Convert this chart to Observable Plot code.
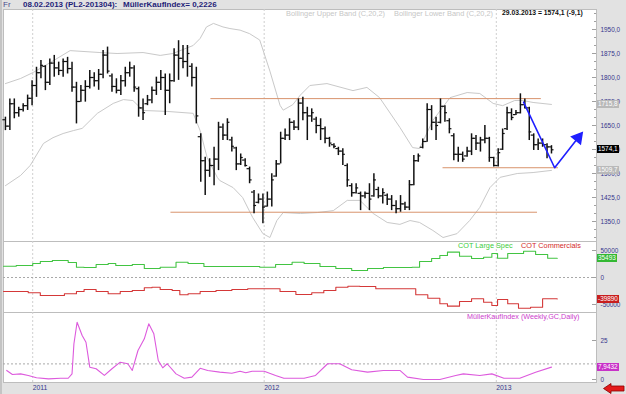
<!DOCTYPE html>
<html><head><meta charset="utf-8">
<script src="https://cdn.jsdelivr.net/npm/d3@7"></script>
<script src="https://cdn.jsdelivr.net/npm/@observablehq/plot@0.6"></script>
<style>
body{margin:0;background:#fff}
#wrap{position:relative;width:626px;height:394px;background:#e2e2e2;overflow:hidden;font-family:"Liberation Sans",Arial,sans-serif}
#wrap:before{content:"";position:absolute;left:0;top:0;width:2px;height:394px;background:#c4c4c4}
.pan{position:absolute;left:0}
.pan svg{overflow:visible}
.t{position:absolute;white-space:nowrap;line-height:1}
.badge{position:absolute;left:597px;height:8px;font-size:6.4px;line-height:8px;color:#fff;padding:0 1px;white-space:nowrap}
</style></head><body>
<div id="wrap">
 <div id="p1" class="pan" style="top:9px"></div>
 <div id="p2" class="pan" style="top:241px"></div>
 <div id="p3" class="pan" style="top:312px"></div>
 <div class="t" style="left:3px;top:1px;font-size:8px;color:#4a4a8a">Fr</div>
 <div class="t" style="left:23px;top:1px;font-size:8px;font-weight:bold;color:#1e1e78">08.02.2013 (PL2-201304):</div>
 <div class="t" style="left:123px;top:1px;font-size:8px;font-weight:bold;color:#1e1e78">MüllerKaufIndex= 0,2226</div>
 <div class="t" style="left:286px;top:9.5px;font-size:7.4px;color:#c6c6c6">Bollinger Upper Band (C,20,2)</div>
 <div class="t" style="left:394px;top:9.5px;font-size:7.4px;color:#c6c6c6">Bollinger Lower Band (C,20,2)</div>
 <div class="t" style="left:502px;top:9.5px;font-size:6.8px;font-weight:bold;color:#111">29.03.2013 = 1574,1 (-9,1)</div>
 <div class="t" style="left:458px;top:241.5px;font-size:7.3px;color:#3ccc3c">COT Large Spec</div>
 <div class="t" style="left:521px;top:241.5px;font-size:7.3px;color:#d42a2a">COT Commercials</div>
 <div class="t" style="left:467px;top:312.5px;font-size:7.2px;color:#cc3ccc">MüllerKaufIndex (Weekly,GC,Daily)</div>
 <svg style="position:absolute;left:603px;top:383px" width="22" height="11"><polygon points="0.5,5.5 8,0.5 8,3 21,3 21,8 8,8 8,10.5" fill="#e41b1b" stroke="#8a0000" stroke-width="0.8"/></svg>
</div>
<script>
// ---------- data ----------
const high = [1676,1733,1733,1707,1718,1745,1790,1832,1853,1837,
 1858,1869,1848,1858,1863,1848,1785,1775,1790,1822,
 1815,1825,1884,1895,1811,1796,1806,1832,1848,1837,
 1770,1733,1744,1770,1801,1822,1811,1811,1890,1915,
 1900,1900,1843,1832,1624,1551,1546,1582,1660,1655,
 1671,1613,1582,1561,1546,1520,1447,1436,1436,1442,
 1499,1541,1629,1639,1671,1665,1733,1738,1707,1702,
 1676,1671,1645,1613,1593,1582,1577,1530,1468,1468,
 1442,1442,1468,1499,1457,1452,1436,1431,1415,1431,
 1410,1478,1556,1561,1608,1718,1712,1676,1733,1712,
 1671,1624,1582,1567,1582,1624,1619,1613,1650,1613,
 1551,1577,1639,1707,1702,1697,1749,1733,1707,1624,
 1608,1608,1593,1587];
const low = [1634,1634,1671,1676,1692,1697,1712,1738,1796,1759,
 1775,1801,1806,1801,1811,1754,1655,1723,1723,1764,
 1770,1760,1796,1811,1754,1749,1744,1770,1801,1754,
 1676,1666,1712,1718,1744,1759,1681,1718,1785,1791,
 1827,1801,1770,1655,1473,1431,1488,1462,1509,1603,
 1603,1567,1509,1525,1520,1468,1374,1405,1343,1395,
 1395,1488,1530,1603,1603,1634,1634,1665,1603,1660,
 1624,1603,1593,1582,1577,1556,1525,1457,1426,1436,
 1384,1421,1384,1426,1421,1405,1400,1384,1374,1379,
 1384,1384,1462,1535,1577,1598,1634,1603,1655,1660,
 1624,1540,1535,1535,1551,1556,1572,1567,1593,1535,
 1520,1520,1572,1634,1665,1681,1686,1702,1603,1572,
 1572,1582,1546,1561];
const open = [1668,1648,1718,1690,1700,1712,1735,1775,1815,1835,
 1785,1845,1830,1822,1850,1828,1770,1725,1760,1772,
 1800,1790,1810,1870,1805,1772,1760,1790,1815,1830,
 1765,1705,1718,1730,1760,1785,1800,1760,1790,1870,
 1860,1850,1835,1800,1615,1540,1510,1525,1545,1645,
 1620,1605,1580,1530,1542,1515,1442,1410,1420,1398,
 1420,1492,1530,1610,1620,1660,1645,1720,1690,1680,
 1670,1650,1640,1610,1590,1578,1570,1525,1462,1440,
 1438,1430,1438,1430,1450,1430,1432,1420,1400,1390,
 1405,1395,1465,1540,1582,1600,1700,1660,1660,1710,
 1665,1618,1560,1560,1555,1570,1610,1595,1605,1610,
 1550,1525,1576,1640,1690,1684,1690,1715,1705,1620,
 1590,1595,1590,1583.2];
const close = [1648,1718,1690,1700,1712,1735,1775,1815,1838,1785,
 1845,1830,1822,1850,1828,1770,1725,1760,1772,1800,
 1790,1810,1870,1820,1772,1760,1790,1815,1830,1770,
 1705,1690,1730,1760,1785,1800,1760,1790,1870,1860,
 1850,1875,1800,1680,1540,1510,1525,1545,1645,1620,
 1660,1585,1530,1550,1525,1480,1400,1420,1395,1420,
 1480,1530,1610,1620,1660,1645,1720,1690,1680,1690,
 1650,1640,1610,1595,1585,1570,1560,1480,1440,1455,
 1430,1438,1420,1480,1430,1440,1420,1400,1390,1405,
 1395,1465,1540,1555,1600,1700,1660,1650,1710,1690,
 1640,1560,1560,1545,1570,1610,1595,1605,1610,1550,
 1525,1565,1625,1690,1675,1690,1715,1705,1630,1590,
 1595,1590,1583.2,1574.1];

const upperBand = [["2010-11-19",1781],["2010-12-13",1797],["2011-01-02",1816],["2011-01-29",1847],["2011-03-01",1884],["2011-04-17",1878],["2011-05-14",1875],["2011-06-24",1878],["2011-07-21",1869],["2011-08-10",1875],["2011-09-11",1900],["2011-09-22",1922],["2011-10-02",1958],["2011-10-13",1969],["2011-10-28",1958],["2011-11-08",1953],["2011-11-24",1948],["2011-12-09",1937],["2011-12-25",1917],["2012-01-10",1820],["2012-01-26",1713],["2012-01-31",1698],["2012-02-15",1715],["2012-02-27",1745],["2012-03-13",1775],["2012-04-09",1781],["2012-05-20",1759],["2012-06-11",1769],["2012-07-01",1737],["2012-08-02",1644],["2012-08-22",1581],["2012-09-02",1578],["2012-09-23",1666],["2012-10-20",1737],["2012-11-16",1753],["2012-12-06",1750],["2012-12-27",1719],["2013-01-11",1712],["2013-01-30",1728],["2013-02-12",1728],["2013-02-28",1722],["2013-03-29",1715.8]];
const lowerBand = [["2010-11-19",1462],["2010-12-13",1494],["2010-12-28",1525],["2011-01-18",1594],["2011-02-02",1612],["2011-02-18",1625],["2011-03-06",1634],["2011-03-20",1641],["2011-04-13",1688],["2011-05-08",1719],["2011-05-24",1731],["2011-06-08",1728],["2011-06-24",1697],["2011-08-01",1694],["2011-09-11",1688],["2011-09-22",1634],["2011-10-03",1550],["2011-10-19",1488],["2011-10-23",1478],["2011-11-13",1456],["2011-11-28",1425],["2011-12-14",1362],["2011-12-30",1312],["2012-01-10",1300],["2012-01-21",1353],["2012-01-31",1378],["2012-02-27",1375],["2012-03-25",1378],["2012-04-19",1384],["2012-05-11",1416],["2012-05-31",1416],["2012-06-21",1375],["2012-07-13",1347],["2012-08-02",1341],["2012-08-18",1353],["2012-09-02",1347],["2012-09-23",1322],["2012-10-09",1300],["2012-10-31",1312],["2012-11-20",1353],["2012-12-06",1394],["2012-12-22",1456],["2013-01-07",1488],["2013-02-03",1500],["2013-02-28",1503],["2013-03-29",1509.7]];

const levels = [{from:"2011-10-09",to:"2013-03-13",price:1734},{from:"2011-08-07",to:"2013-03-07",price:1379},{from:"2012-10-09",to:"2013-04-09",price:1518}];
const trend = [["2013-02-13",1723],["2013-04-03",1518],["2013-05-10",1612]];
const arrowHead = [["2013-05-10",1612]];

const cotLarge = [["2010-11-16",20900],["2010-12-06",22200],["2011-01-01",25900],["2011-01-13",29600],["2011-02-01",31500],["2011-02-26",27800],["2011-03-11",19000],["2011-03-23",18500],["2011-04-11",24000],["2011-04-30",25900],["2011-05-12",22200],["2011-06-07",24000],["2011-06-26",16700],["2011-07-21",19000],["2011-08-15",28300],["2011-09-03",25900],["2011-09-28",20400],["2011-10-30",20400],["2011-11-24",20400],["2011-12-25",19000],["2012-01-19",24000],["2012-02-14",28300],["2012-03-04",25900],["2012-03-29",20400],["2012-04-23",16700],["2012-05-18",13000],["2012-06-12",16700],["2012-07-07",18500],["2012-08-02",18500],["2012-08-21",19000],["2012-09-02",29600],["2012-09-21",35200],["2012-10-04",40700],["2012-10-16",46900],["2012-11-04",39400],["2012-11-23",35200],["2012-12-12",37600],["2012-12-25",44400],["2013-01-03",35700],["2013-01-19",44400],["2013-02-13",48700],["2013-03-04",42600],["2013-03-23",35700],["2013-04-07",35493]];
const cotComm = [["2010-11-16",-25900],["2010-12-06",-25900],["2010-12-25",-28300],["2011-01-13",-33300],["2011-02-01",-33300],["2011-02-20",-30200],["2011-03-11",-25900],["2011-03-23",-22200],["2011-04-11",-25900],["2011-04-30",-30200],["2011-05-19",-25900],["2011-06-07",-24100],["2011-06-26",-19100],["2011-07-08",-18000],["2011-07-21",-22200],["2011-08-09",-24100],["2011-08-21",-32000],["2011-09-03",-30200],["2011-09-22",-25900],["2011-10-17",-24100],["2011-11-11",-22200],["2011-12-06",-20900],["2012-01-01",-20900],["2012-01-26",-25900],["2012-02-20",-31500],["2012-03-16",-28300],["2012-04-04",-24100],["2012-04-23",-18000],["2012-05-12",-16100],["2012-05-31",-16700],["2012-06-25",-20900],["2012-07-20",-20900],["2012-08-14",-20900],["2012-08-27",-32000],["2012-09-15",-38300],["2012-10-04",-48700],["2012-10-16",-53100],["2012-11-04",-44400],["2012-11-23",-39400],["2012-12-12",-45700],["2012-12-25",-51900],["2013-01-03",-40700],["2013-01-19",-48700],["2013-02-05",-56900],["2013-02-24",-55000],["2013-03-15",-39400],["2013-04-07",-39890]];
const mkIndex = [["2010-11-21",5.8],["2010-11-30",3.2],["2010-12-13",3.6],["2010-12-25",2.6],["2011-01-07",1.1],["2011-01-26",0.4],["2011-02-14",0.8],["2011-02-26",0.8],["2011-03-04",3.6],["2011-03-07",22.9],["2011-03-12",36.7],["2011-03-20",28.2],["2011-03-26",23.9],["2011-04-01",7.9],["2011-04-11",6.9],["2011-04-24",2.6],["2011-05-06",6.9],["2011-05-19",11.1],["2011-05-31",10.1],["2011-06-07",5.8],["2011-06-16",18.6],["2011-06-26",26.1],["2011-07-03",35.7],["2011-07-11",29.3],["2011-07-18",12.2],["2011-07-25",7.5],["2011-08-01",10.1],["2011-08-15",3.6],["2011-08-28",0.8],["2011-09-09",1.5],["2011-09-22",7.2],["2011-10-04",5.8],["2011-10-23",4.7],["2011-11-11",4.0],["2011-11-24",5.3],["2011-12-03",4.3],["2011-12-13",5.3],["2012-01-01",5.3],["2012-01-19",2.6],["2012-02-01",0.8],["2012-03-04",0.8],["2012-03-22",2.6],["2012-04-10",10.1],["2012-04-29",10.1],["2012-05-18",6.2],["2012-06-12",4.7],["2012-07-07",5.8],["2012-08-02",5.8],["2012-08-14",1.5],["2012-09-08",0],["2012-10-04",0],["2012-10-29",2.6],["2012-11-10",3.6],["2012-12-06",2.6],["2012-12-25",3.6],["2013-01-13",0.8],["2013-02-07",0.8],["2013-03-04",4.7],["2013-03-29",7.9432]];

const priceMajor = [1350,1425,1500,1575,1650,1725,1800,1875,1950];
const priceMinor = [1300,1325,1375,1400,1450,1475,1525,1550,1600,1625,1675,1700,1750,1775,1825,1850,1900,1925,1975,2000];
const cotTicks = [50000,0,-50000];
const mkTicks = [0,25];
const yearLines = ["2011-01-01","2012-01-01","2013-01-01"].map(s => new Date(s));

// ---------- layout ----------
const dayMs = 864e5;
const origin = Date.UTC(2011,0,1);
const pxPerDay = 0.6342;
const L = 3, R = 596;
const xDomain = [new Date(origin - (32.2 - L) / pxPerDay * dayMs), new Date(origin + (R - 32.2) / pxPerDay * dayMs)];
const font = "'Liberation Sans', Arial, sans-serif";
const axisColor = "#35358c";
const tickColor = "#a0a0a0";
const P = a => ({date: new Date(a[0]), v: a[1]});

const weeks = d3.utcFriday.range(new Date(Date.UTC(2010,10,19)), new Date(Date.UTC(2013,2,30)));
const bars = weeks.map((date, i) => ({date, open: open[i], high: high[i], low: low[i], close: close[i]}));
const lv = levels.map(d => ({from: new Date(d.from), to: new Date(d.to), price: d.price}));

const fmt1 = v => v.toFixed(1).replace(".", ",");
const common = (h, mb = 0) => ({
  width: 626, height: h, marginLeft: L, marginRight: 626 - R, marginTop: 0, marginBottom: mb,
  style: {background: "transparent", fontFamily: font, fontSize: "6.4px", overflow: "visible"},
  x: {type: "utc", domain: xDomain, axis: null}
});
const axes = (major, minor, fmt) => [
  ...(minor ? [Plot.axisY({anchor: "right", ticks: minor, tickSize: 2, dx: -3, tickFormat: () => "", label: null, color: tickColor})] : []),
  Plot.axisY({anchor: "right", ticks: major, tickSize: 4, dx: -5, tickFormat: () => "", label: null, color: tickColor}),
  Plot.axisY({anchor: "right", ticks: major, tickSize: 0, tickPadding: 4, tickFormat: fmt, label: null, color: axisColor})
];

const c1 = Plot.plot({
  ...common(232),
  y: {domain: [1287.5, 2012.5], axis: null, label: null},
  marks: [
    Plot.frame({fill: "white", stroke: "#bdbdbd"}),
    Plot.ruleX(yearLines, {stroke: "#cfcfcf", strokeDasharray: "2,2"}),
    Plot.line(upperBand.map(P), {x: "date", y: "v", stroke: "#c9c9c9", strokeWidth: 1}),
    Plot.line(lowerBand.map(P), {x: "date", y: "v", stroke: "#c9c9c9", strokeWidth: 1}),
    Plot.ruleY(lv, {x1: "from", x2: "to", y: "price", stroke: "#d8936c", strokeWidth: 1}),
    Plot.ruleX(bars, {x: "date", y1: "low", y2: "high", stroke: "#111", strokeWidth: 1.5}),
    Plot.ruleY(bars, {x1: d => new Date(+d.date - 4 * dayMs), x2: "date", y: "open", stroke: "#111", strokeWidth: 1.2}),
    Plot.ruleY(bars, {x1: "date", x2: d => new Date(+d.date + 4 * dayMs), y: "close", stroke: "#111", strokeWidth: 1.2}),
    Plot.line(trend.map(P), {x: "date", y: "v", stroke: "#1f1fff", strokeWidth: 1.6}),
    Plot.dot(arrowHead.map(P), {x: "date", y: "v", symbol: "triangle", r: 4.2, fill: "#1f1fff", stroke: "#1f1fff", rotate: 39}),
    ...axes(priceMajor, priceMinor, fmt1)
  ]
});
document.getElementById("p1").append(c1);

const c2 = Plot.plot({
  ...common(71),
  y: {domain: [-64815, 66667], axis: null, label: null},
  marks: [
    Plot.frame({fill: "white", stroke: "#bdbdbd"}),
    Plot.ruleX(yearLines, {stroke: "#cfcfcf", strokeDasharray: "2,2"}),
    Plot.ruleY([0], {stroke: "#a8a8a8", strokeDasharray: "2,2"}),
    Plot.line(cotLarge.map(P), {x: "date", y: "v", curve: "step-after", stroke: "#42c442", strokeWidth: 1.1}),
    Plot.line(cotComm.map(P), {x: "date", y: "v", curve: "step-after", stroke: "#d43838", strokeWidth: 1.1}),
    ...axes(cotTicks, null, d => String(d))
  ]
});
document.getElementById("p2").append(c2);

const c3 = Plot.plot({
  ...common(82, 12),
  y: {domain: [-1.923, 42.95], axis: null, label: null},
  marks: [
    Plot.frame({fill: "white", stroke: "#bdbdbd"}),
    Plot.ruleX(yearLines, {stroke: "#cfcfcf", strokeDasharray: "2,2"}),
    Plot.ruleY([10], {stroke: "#a8a8a8", strokeDasharray: "2,2"}),
    Plot.line(mkIndex.map(P), {x: "date", y: "v", stroke: "#dd5add", strokeWidth: 1.1}),
    ...axes(mkTicks, null, d => String(d)),
    Plot.axisX({ticks: yearLines, tickFormat: d3.utcFormat("%Y"), tickSize: 0, tickPadding: 3, textAnchor: "start", label: null, color: axisColor, fontSize: "6.8px"})
  ]
});
document.getElementById("p3").append(c3);

// value badges on the right axis, placed with each panel's own y scale
const wrap = document.getElementById("wrap");
function badge(chart, top, value, label, bg) {
  const y = chart.scale("y").apply(value);
  const b = document.createElement("div");
  b.className = "badge";
  b.style.top = (top + y - 4) + "px";
  b.style.background = bg;
  b.textContent = label;
  wrap.append(b);
}
badge(c1, 9, 1715.8, "1715,8", "#b9b9b9");
badge(c1, 9, 1574.1, "1574,1", "#000");
badge(c1, 9, 1509.7, "1509,7", "#b9b9b9");
badge(c2, 241, 35493, "35493", "#33b833");
badge(c2, 241, -39890, "-39890", "#c81e1e");
badge(c3, 312, 7.9432, "7,9432", "#c832c8");
</script>
</body></html>
